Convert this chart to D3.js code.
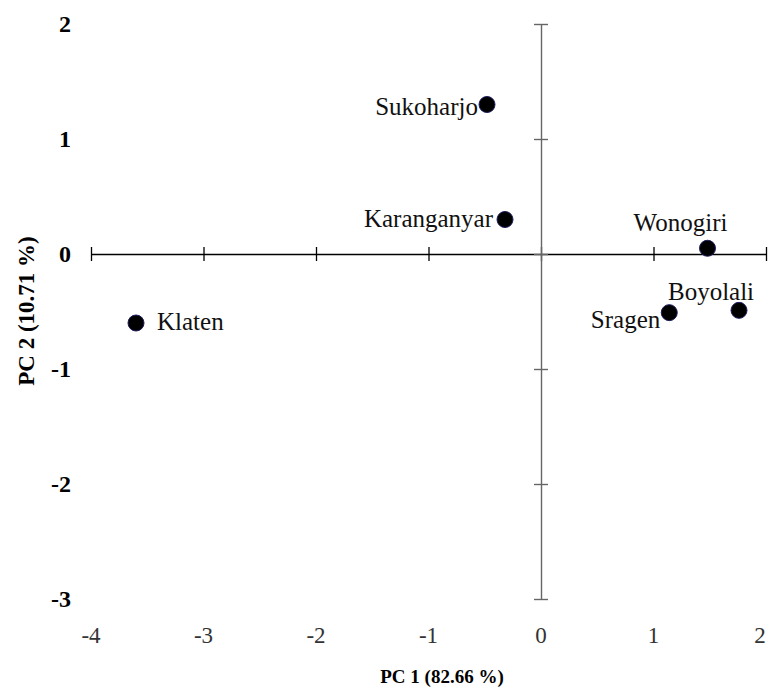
<!DOCTYPE html>
<html lang="en">
<head>
<meta charset="UTF-8">
<title>PCA biplot</title>
<script src="https://cdn.jsdelivr.net/npm/d3@7"></script>
<style>
    body { margin: 0; background: #fff; }
    svg { display: block; }
    svg text { font-family: "Liberation Serif", "DejaVu Serif", serif; }
</style>
</head>
<body>
<svg width="769" height="687"></svg>
<script>
    // data
    const regions = ["Sukoharjo", "Karanganyar", "Wonogiri", "Boyolali", "Sragen", "Klaten"];
    const pc1 = [-0.48, -0.32, 1.48, 1.76, 1.14, -3.60];
    const pc2 = [1.30, 0.30, 0.05, -0.49, -0.51, -0.60];
    const xTicks = [-4, -3, -2, -1, 0, 1, 2];
    const yTicks = [2, 1, 0, -1, -2, -3];

    // where each label sits relative to its point
    const labelPlace = {
        "Sukoharjo":   { dx: -9, dy: 10, anchor: "end" },
        "Karanganyar": { dx: -12, dy: 7, anchor: "end" },
        "Wonogiri":    { dx: -27, dy: -17, anchor: "middle" },
        "Boyolali":    { dx: -28, dy: -10, anchor: "middle" },
        "Sragen":      { dx: -9, dy: 15, anchor: "end" },
        "Klaten":      { dx: 21, dy: 7, anchor: "start" }
    };

    const svg = d3.select("svg");

    const x = d3.scaleLinear().domain([-4, 2]).range([91, 766]);
    const y = d3.scaleLinear().domain([-3, 2]).range([599, 24]);

    // horizontal axis through y = 0
    const gx = svg.append("g")
        .attr("transform", "translate(0," + y(0) + ")")
        .call(d3.axisBottom(x).tickValues(xTicks).tickSize(7).tickSizeOuter(0).tickFormat(""));
    gx.select(".domain").attr("stroke", "#000").attr("stroke-width", 1.3);
    gx.selectAll(".tick line").attr("y1", -7).attr("stroke", "#000").attr("stroke-width", 1.3);

    // vertical axis through x = 0
    const gy = svg.append("g")
        .attr("transform", "translate(" + x(0) + ",0)")
        .call(d3.axisLeft(y).tickValues(yTicks).tickSize(7).tickSizeOuter(0).tickFormat(""));
    gy.select(".domain").attr("stroke", "#666").attr("stroke-width", 1.4);
    gy.selectAll(".tick line").attr("x1", 7).attr("stroke", "#666").attr("stroke-width", 1.4);

    // tick labels on the outside
    svg.append("g").selectAll("text")
        .data(xTicks)
        .enter().append("text")
        .attr("x", d => Math.min(x(d), 760))
        .attr("y", 643)
        .attr("text-anchor", "middle")
        .attr("font-size", 23)
        .attr("fill", "#333")
        .text(d => d);

    svg.append("g").selectAll("text")
        .data(yTicks)
        .enter().append("text")
        .attr("x", 71)
        .attr("y", d => y(d) + 8)
        .attr("text-anchor", "end")
        .attr("font-size", 24)
        .attr("font-weight", "bold")
        .text(d => d);

    // axis titles
    svg.append("text")
        .attr("x", 442).attr("y", 683)
        .attr("text-anchor", "middle")
        .attr("font-size", 19).attr("font-weight", "bold")
        .text("PC 1 (82.66 %)");

    svg.append("text")
        .attr("transform", "translate(34,311) rotate(-90)")
        .attr("text-anchor", "middle")
        .attr("font-size", 23).attr("font-weight", "bold")
        .text("PC 2 (10.71 %)");

    // points and names
    const pts = svg.append("g").selectAll("g")
        .data(regions)
        .enter().append("g")
        .attr("transform", (d, i) => "translate(" + x(pc1[i]) + "," + y(pc2[i]) + ")");

    pts.append("circle")
        .attr("r", 8)
        .attr("fill", "#000")
        .attr("stroke", "#1c1c5c")
        .attr("stroke-width", 1);

    pts.append("text")
        .attr("x", d => labelPlace[d].dx)
        .attr("y", d => labelPlace[d].dy)
        .attr("text-anchor", d => labelPlace[d].anchor)
        .attr("font-size", 25)
        .attr("fill", "#111")
        .text(d => d);
</script>
</body>
</html>
